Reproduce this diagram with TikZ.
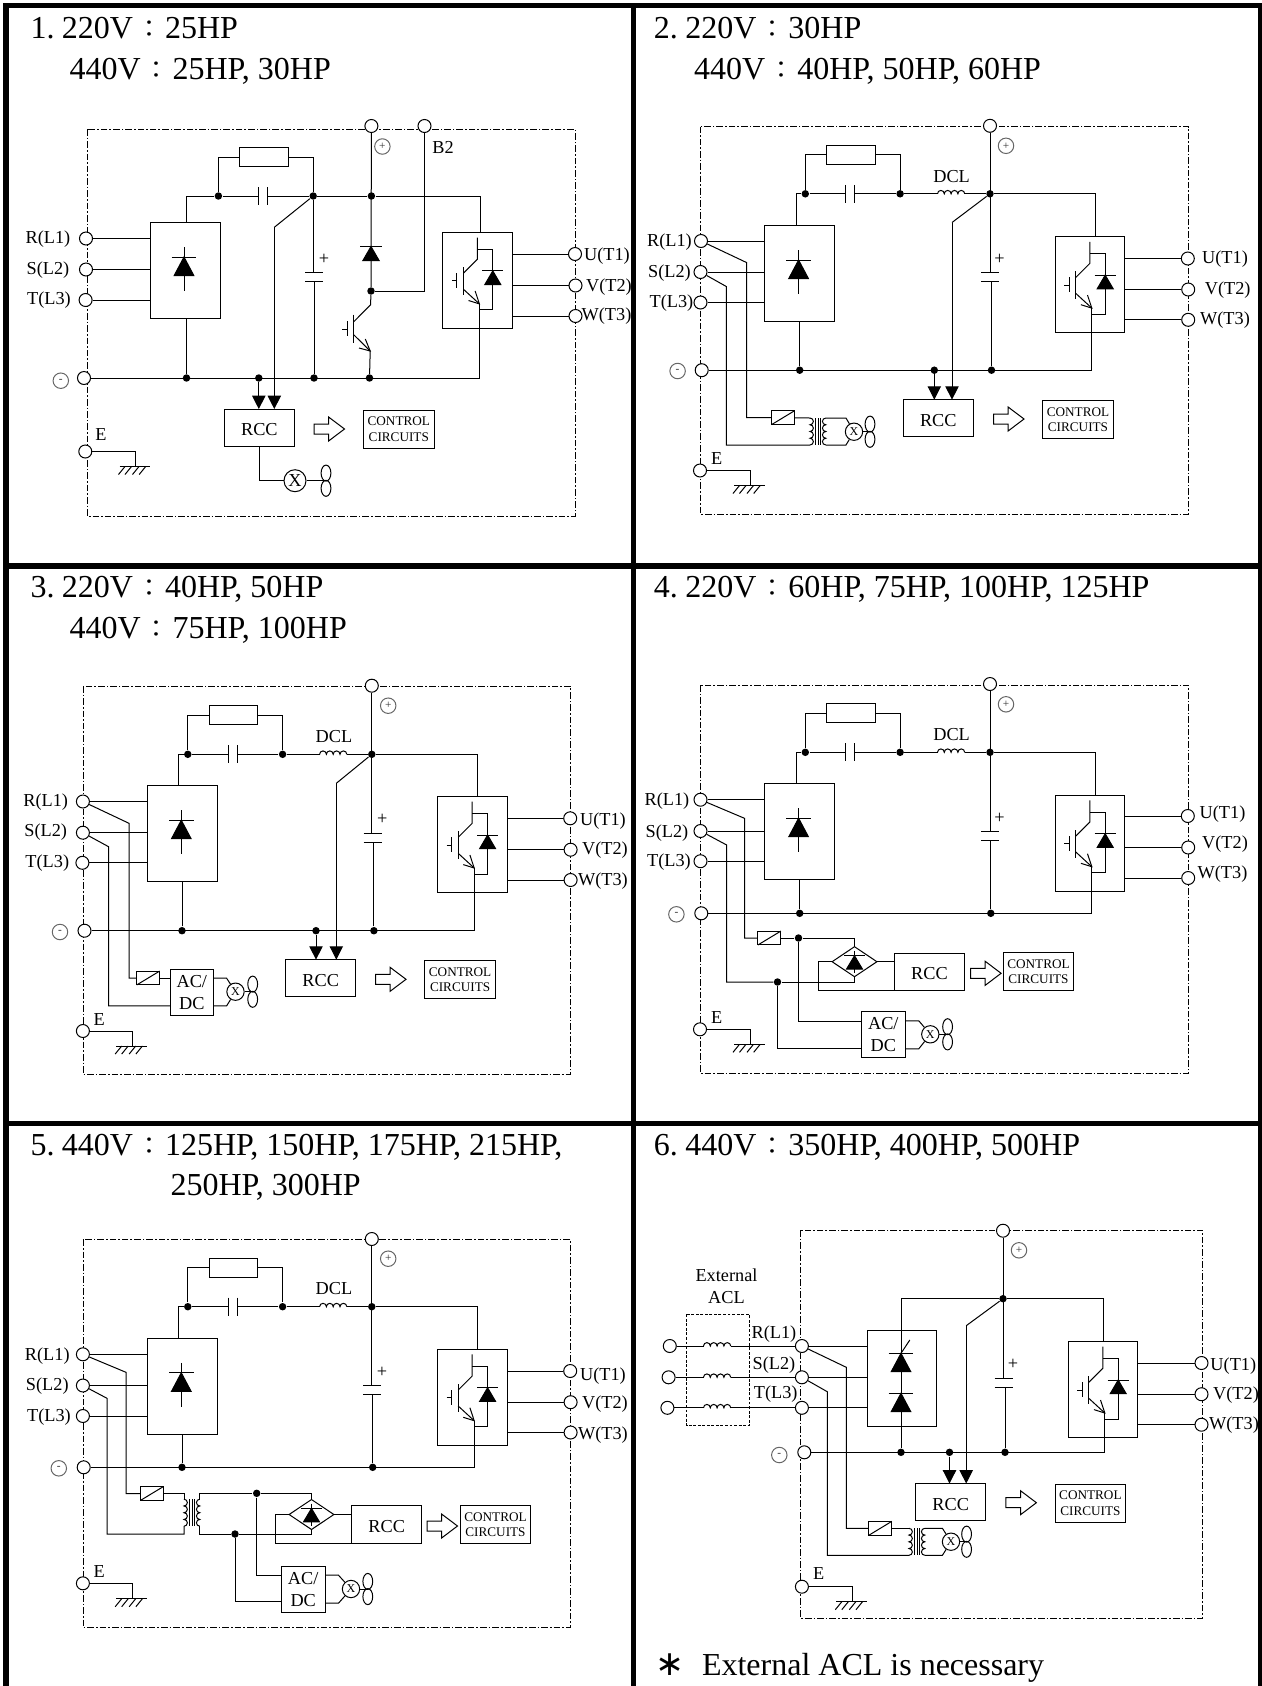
\documentclass[tikz,border=0pt]{standalone}
\usepackage{fontspec}
\setmainfont{Liberation Serif}
\newfontfamily\cjk{Noto Sans CJK TC}
\newfontfamily\symb{DejaVu Sans}
\usetikzlibrary{arrows.meta,calc,shapes.geometric}
\tikzset{
	term/.style={circle,draw,fill=white,inner sep=0,minimum size=9.75pt},
	dot/.style={circle,fill=black,inner sep=0,minimum size=5.6pt},
	sgn/.style={circle,draw=black!60,text=black!80,inner sep=0,minimum size=11.6pt,font=\fontsize{8.5}{9}\selectfont},
	lbl/.style={inner sep=0,yshift=-1pt,font=\fontsize{13.7}{16}\selectfont},
	rst/.style={lbl,yshift=-0.7pt},
	heading/.style={inner sep=0,anchor=base west,font=\fontsize{24}{28}\selectfont},
	blk/.style={draw,inner sep=0,outer sep=0,anchor=north west},
	rccbox/.style={draw,inner sep=0,outer sep=0,minimum width=52.5pt,minimum height=28pt,text height=12pt,font=\fontsize{13.7}{16}\selectfont},
	ctrlbox/.style={draw,inner sep=0,outer sep=0,minimum width=52.8pt,minimum height=28.5pt,align=center,font=\fontsize{9.9}{11.6}\selectfont},
	acbox/.style={draw,inner sep=0,outer sep=0,minimum width=32.7pt,minimum height=34.5pt,align=center,font=\fontsize{13.7}{16.5}\selectfont},
	resbox/.style={draw,inner sep=0,outer sep=0,minimum width=36.6pt,minimum height=14.3pt},
	relaybox/.style={draw,inner sep=0,outer sep=0,minimum width=17.2pt,minimum height=10.4pt},
	bridgebox/.style={diamond,draw,inner sep=0,outer sep=0,aspect=1.5,minimum width=33.6pt,minimum height=22.5pt},
	fanbig/.style={circle,draw,inner sep=0,minimum size=16.5pt,font=\fontsize{13.7}{16}\selectfont},
	fansmall/.style={circle,draw,inner sep=0,minimum size=13pt,font=\fontsize{9}{10}\selectfont},
	feed/.style={-{Triangle[length=10pt,width=10pt]}},
	dashbox/.style={line width=0.6pt,dash pattern=on 5pt off 1.5pt on 1.2pt off 1.5pt},
}
\def\cln{\makebox[1em]{\raisebox{0.5pt}{\fontsize{18}{18}\cjk ：}}}
\def\tight{\kern-.1em}
\def\diodeup(#1,#2)(#3:#4){
	\draw[fill=black] (#1,#2) -- (#1-#3,#2+#4) -- (#1+#3,#2+#4) -- cycle;
	\draw (#1-#3-2.5,#2) -- (#1+#3+2.5,#2);
}
\def\rectunit(#1,#2)#3{
	\begin{scope}[shift={(#1,#2)}]
		\node[blk,minimum width=52.5pt,minimum height=72pt] (#3) at (0,0) {};
		\draw (34,24.5) -- (34,68.5);
		\diodeup(34,34.5)(9.8:18.5)
	\end{scope}
}
\def\igbt(#1,#2)#3{
	\begin{scope}[shift={(#1,#2)}]
		\node[blk,minimum width=52.2pt,minimum height=72pt] (#3) at (0,0) {};
		\coordinate (#3e) at (36.6,71.7);
		\draw (34.6,5.4) -- (34.6,27) -- (20.6,41);
		\draw (20.6,35) -- (20.6,62.7);
		\draw (14,41) -- (14,56);
		\draw (9,48.7) -- (14,48.7);
		\draw (20.6,57) -- (36.6,71.7);
		\draw (32.3,58.7) -- (36.6,71.7) -- (25.7,68.3);
		\draw (34.6,17) -- (50,17) -- (50,77.7) -- (36.6,77.7);
		\diodeup(50,38.7)(8:13.7)
	\end{scope}
}
\def\snubber(#1,#2)#3{
	\begin{scope}[shift={(#1,#2)}]
		\node[dot] (#3a) at (0,0) {};
		\node[dot] (#3b) at (94.8,0) {};
		\node[resbox] (#3c) at (45.7,-39) {};
		\coordinate (#3d) at (40.4,0);
		\coordinate (#3e) at (49.3,0);
		\draw (#3a) |- (#3c);
		\draw (#3c) -| (#3b);
		\draw (#3a) -- (#3d);
		\draw (#3e) -- (#3b);
		\draw (40.4,-9) -- (40.4,9);
		\draw (49.3,-9) -- (49.3,9);
	\end{scope}
}
\def\choke(#1,#2)#3{
	\coordinate (#3l) at (#1,#2);
	\coordinate (#3r) at (#1+27.2,#2);
	\draw (#3l) arc (180:0:2.55pt) arc (180:0:2.55pt) arc (180:0:2.55pt) arc (180:0:2.55pt);
}
\def\buscap(#1,#2)#3{
	\coordinate (#3t) at (#1,#2);
	\coordinate (#3b) at (#1,#2+9);
	\draw (#1-9,#2) -- (#1+9,#2);
	\draw (#1-9,#2+9) -- (#1+9,#2+9);
	\node[lbl] (#3p) at (#1+9.6,#2-15) {+};
}
\def\ground(#1,#2)#3{
	\coordinate (#3) at (#1,#2);
	\begin{scope}[shift={(#1,#2)}]
		\draw (-16,0) -- (14.5,0);
		\draw (-10.5,0) -- ++(-6.5,8);
		\draw (-4,0) -- ++(-6.5,8);
		\draw (3.5,0) -- ++(-6.5,8);
		\draw (10.2,0) -- ++(-6.5,8);
	\end{scope}
}
\def\hollow(#1,#2){
	\begin{scope}[shift={(#1,#2)}]
		\draw (0,-5) -- (14.6,-5) -- (14.6,-12) -- (30.5,0) -- (14.6,12) -- (14.6,5) -- (0,5) -- cycle;
	\end{scope}
}
\def\fanunit[#1](#2,#3)(#4)#5{
	\node[#1] (#5) at (#2,#3) {X};
	\begin{scope}[shift={(#2,#3)}]
		\coordinate (#5s) at (#4,0);
		\draw (#5) -- (#5s);
		\draw (#4,-7.6) ellipse (4.9 and 8);
		\draw (#4,7.6) ellipse (4.9 and 8);
	\end{scope}
}
\def\relay(#1,#2)#3{
	\node[relaybox] (#3) at (#1,#2) {};
	\draw (#3.south west) -- (#3.north east);
}
\def\xfmr(#1,#2)#3{
	\begin{scope}[shift={(#1,#2)}]
		\coordinate (#3a) at (0,0);
		\coordinate (#3b) at (0,27);
		\coordinate (#3c) at (15.8,0);
		\coordinate (#3d) at (15.8,27);
		\draw (#3a) arc (90:-90:2.53pt) arc (90:-90:2.53pt) arc (90:-90:2.53pt) arc (90:-90:2.53pt);
		\draw (#3c) arc (90:270:2.53pt) arc (90:270:2.53pt) arc (90:270:2.53pt) arc (90:270:2.53pt);
		\draw (5.3,0) -- (5.3,27);
		\draw (8,0) -- (8,27);
		\draw (10.7,0) -- (10.7,27);
	\end{scope}
}
\def\bridge(#1,#2)#3{
	\node[bridgebox] (#3) at (#1,#2) {};
	\begin{scope}[shift={(#1,#2)}]
		\draw (0,-11) -- (0,11);
		\diodeup(0,-6)(8:13.4)
	\end{scope}
}
\def\phases#1{
	\draw (r#1) -- (r#1 -| rc#1.west);
	\draw (s#1) -- (s#1 -| rc#1.west);
	\draw (t#1) -- (t#1 -| rc#1.west);
	\draw (u#1) -- (u#1 -| ig#1.east);
	\draw (v#1) -- (v#1 -| ig#1.east);
	\draw (w#1) -- (w#1 -| ig#1.east);
}
\begin{document}
\begin{tikzpicture}[x=0.75pt,y=-0.75pt,line width=0.75pt]
	\useasboundingbox (0,0) rectangle (1262,1686);
	%%%%% FRAME %%%%%
	\fill (3,3) rectangle (9,1686);
	\fill (631,3) rectangle (636,1686);
	\fill (1257.5,3) rectangle (1262,1686);
	\fill (3,3) rectangle (1262,8);
	\fill (3,562.5) rectangle (1262,568.5);
	\fill (3,1121) rectangle (1262,1125.7);

	%%%%% PANEL 1 %%%%%
	\node[heading] (head1a) at (30,38) {1.\tight{} 220V\cln 25HP};
	\node[heading] (head1b) at (69,79) {440V\cln 25HP, 30HP};
	\draw[dashbox] (87,129) rectangle (575,516);
	\node[term] (pos1) at (371.4,126) {};
	\node[term] (b21) at (424.5,126) {};
	\node[sgn] (psign1) at (382.4,146.5) {+};
	\node[lbl] (b2lbl1) at (443,145.7) {B2};
	\node[term] (r1) at (86,238.5) {};
	\node[term] (s1) at (86,269.5) {};
	\node[term] (t1) at (85.6,300) {};
	\node[rst] (rlbl1) at (48,237) {R(L1)};
	\node[rst] (slbl1) at (48,268) {S(L2)};
	\node[rst] (tlbl1) at (49,298) {T(L3)};
	\node[term] (u1) at (575,254) {};
	\node[term] (v1) at (575.5,285.5) {};
	\node[term] (w1) at (575.5,316) {};
	\node[lbl] (ulbl1) at (607,255) {U(T1)};
	\node[lbl] (vlbl1) at (609,285.5) {V(T2)};
	\node[lbl] (wlbl1) at (606.5,315) {W(T3)};
	\rectunit(150,222.5){rc1}
	\igbt(442.8,232.2){ig1}
	\phases{1}
	\snubber(218.4,196){sn1}
	\coordinate (rt1) at (186.5,222.5);
	\coordinate (it1) at (480.4,232.2);
	\draw (rt1) |- (sn1a);
	\node[dot] (p1) at (371.4,196) {};
	\node[dot] (j1) at (371,291) {};
	\draw (sn1b) -- (p1) -| (it1);
	\draw (pos1) -- (j1);
	\diodeup(371,246.5)(8.2:14.2)
	\draw (b21) |- (j1);
	\node[term] (neg1) at (84,378) {};
	\node[sgn] (nsign1) at (60.8,380.7) {-};
	\node[dot] (ba1) at (186.5,378) {};
	\node[dot] (bb1) at (258.8,378) {};
	\node[dot] (bc1) at (314,378) {};
	\node[dot] (bd1) at (369.5,378) {};
	\draw (neg1) -- (ig1e |- neg1) -- (ig1e);
	\draw (ba1) -- (ba1 |- rc1.south);
	\buscap(314.3,272.7){cp1}
	\draw (sn1b) -- (sn1b |- cp1t);
	\draw (bc1) -- (bc1 |- cp1b);
	\coordinate (tc1) at (370.6,304.7);
	\coordinate (te1) at (370.2,351);
	\draw (j1) -- (tc1) -- (353.5,322);
	\draw (353.5,314.5) -- (353.5,343);
	\draw (347.8,321) -- (347.8,335.6);
	\draw (342,329) -- (347.8,329);
	\draw (353.5,334.5) -- (te1) -- (bd1);
	\draw (365.3,339) -- (te1) -- (359,348);
	\node[rccbox] (rcc1) at (259.4,427.7) {RCC};
	\node[ctrlbox] (ctrl1) at (398.8,429) {CONTROL\\CIRCUITS};
	\coordinate (k1) at (274.3,227.3);
	\draw (sn1b) -- (k1);
	\draw[feed] (k1) -- (k1 |- rcc1.north);
	\draw[feed] (bb1) -- (bb1 |- rcc1.north);
	\hollow(314,429)
	\node[term] (e1) at (85.3,451.5) {};
	\node[lbl] (elbl1) at (101,432.7) {E};
	\ground(135.5,466.5){gnd1}
	\draw (e1) -| (gnd1);
	\fanunit[fanbig](295,480.7)(31){fan1}
	\draw (rcc1) |- (fan1);

	%%%%% PANEL 2 %%%%%
	\node[heading] (head2a) at (653.4,38) {2.\tight{} 220V\cln 30HP};
	\node[heading] (head2b) at (693.7,79) {440V\cln 40HP, 50HP, 60HP};
	\draw[dashbox] (700.5,126.5) rectangle (1188.6,514.5);
	\node[term] (pos2) at (990,125.8) {};
	\node[sgn] (psign2) at (1006,145.8) {+};
	\node[term] (r2) at (701,241) {};
	\node[term] (s2) at (700.5,272) {};
	\node[term] (t2) at (700.5,302.5) {};
	\node[rst] (rlbl2) at (669.5,240) {R(L1)};
	\node[rst] (slbl2) at (669.5,271) {S(L2)};
	\node[rst] (tlbl2) at (671.5,301) {T(L3)};
	\node[term] (u2) at (1187.8,258.5) {};
	\node[term] (v2) at (1188.2,289.5) {};
	\node[term] (w2) at (1188.2,319.8) {};
	\node[lbl] (ulbl2) at (1225,257.5) {U(T1)};
	\node[lbl] (vlbl2) at (1227.7,288.4) {V(T2)};
	\node[lbl] (wlbl2) at (1225,318.5) {W(T3)};
	\rectunit(764.6,225.5){rc2}
	\igbt(1055.2,236.4){ig2}
	\phases{2}
	\snubber(805.3,193.8){sn2}
	\choke(937.5,193.8){dl2}
	\node[lbl] (dlbl2) at (951.6,175) {DCL};
	\coordinate (rt2) at (796.5,225.5);
	\coordinate (it2) at (1095.5,236.4);
	\node[dot] (p2) at (990,193.8) {};
	\draw (rt2) |- (sn2a);
	\draw (sn2b) -- (dl2l);
	\draw (dl2r) -- (p2) -| (it2);
	\node[term] (neg2) at (701.7,370.2) {};
	\node[sgn] (nsign2) at (677.6,371) {-};
	\node[dot] (ba2) at (799.7,370.2) {};
	\node[dot] (bb2) at (934.3,370.2) {};
	\node[dot] (bc2) at (991.5,370.2) {};
	\draw (neg2) -- (ig2e |- neg2) -- (ig2e);
	\draw (ba2) -- (ba2 |- rc2.south);
	\buscap(990,272.7){cp2}
	\draw (pos2) -- (pos2 |- cp2t);
	\draw (bc2) -- (bc2 |- cp2b);
	\node[rccbox] (rcc2) at (938.3,418.3) {RCC};
	\node[ctrlbox] (ctrl2) at (1078,419.7) {CONTROL\\CIRCUITS};
	\coordinate (k2) at (952,222.5);
	\draw (p2) -- (k2);
	\draw[feed] (k2) -- (k2 |- rcc2.north);
	\draw[feed] (bb2) -- (bb2 |- rcc2.north);
	\hollow(993.5,419)
	\relay(783,417.7){ry2}
	\xfmr(810,418){tf2}
	\coordinate (rk2) at (746.5,262.5);
	\coordinate (sk2) at (726.3,286.5);
	\draw (r2) -- (rk2) |- (ry2);
	\draw (ry2) -- (tf2a);
	\draw (s2) -- (sk2) |- (tf2b);
	\fanunit[fansmall](854,431.7)(16){fan2}
	\draw (tf2c) -- ++(20.2,0) -- (fan2);
	\draw (tf2d) -- ++(20.2,0) -- (fan2);
	\node[term] (e2) at (700,470.5) {};
	\node[lbl] (elbl2) at (716.7,457.5) {E};
	\ground(750,485.5){gnd2}
	\draw (e2) -| (gnd2);

	%%%%% PANEL 3 %%%%%
	\node[heading] (head3a) at (30,597) {3.\tight{} 220V\cln 40HP, 50HP};
	\node[heading] (head3b) at (69,638) {440V\cln 75HP, 100HP};
	\draw[dashbox] (82.9,686) rectangle (570.2,1074.3);
	\node[term] (pos3) at (371.8,685.7) {};
	\node[sgn] (psign3) at (388.2,705.7) {+};
	\node[term] (r3) at (82.9,801.5) {};
	\node[term] (s3) at (82.9,832.7) {};
	\node[term] (t3) at (82.4,862.8) {};
	\node[rst] (rlbl3) at (45.7,800) {R(L1)};
	\node[rst] (slbl3) at (45.7,830) {S(L2)};
	\node[rst] (tlbl3) at (47.3,861.3) {T(L3)};
	\node[term] (u3) at (570.2,818.3) {};
	\node[term] (v3) at (570.6,849.7) {};
	\node[term] (w3) at (570.6,880) {};
	\node[lbl] (ulbl3) at (602.9,819.3) {U(T1)};
	\node[lbl] (vlbl3) at (605,849) {V(T2)};
	\node[lbl] (wlbl3) at (602.9,879.3) {W(T3)};
	\rectunit(147.3,785.7){rc3}
	\igbt(437.6,796.3){ig3}
	\phases{3}
	\snubber(187.8,754.3){sn3}
	\choke(319.6,754.3){dl3}
	\node[lbl] (dlbl3) at (333.9,734.8) {DCL};
	\coordinate (rt3) at (178.8,785.7);
	\coordinate (it3) at (477.6,796.3);
	\node[dot] (p3) at (371.8,754.3) {};
	\draw (rt3) |- (sn3a);
	\draw (sn3b) -- (dl3l);
	\draw (dl3r) -- (p3) -| (it3);
	\node[term] (neg3) at (84.5,930.7) {};
	\node[sgn] (nsign3) at (60,932) {-};
	\node[dot] (ba3) at (182,930.7) {};
	\node[dot] (bb3) at (316,930.7) {};
	\node[dot] (bc3) at (373.9,930.7) {};
	\draw (neg3) -- (ig3e |- neg3) -- (ig3e);
	\draw (ba3) -- (ba3 |- rc3.south);
	\buscap(372.6,833.3){cp3}
	\draw (pos3) -- (pos3 |- cp3t);
	\draw (bc3) -- (bc3 |- cp3b);
	\node[rccbox] (rcc3) at (320.7,978.3) {RCC};
	\node[ctrlbox] (ctrl3) at (460.1,979.5) {CONTROL\\CIRCUITS};
	\coordinate (k3) at (336.3,783.3);
	\draw (p3) -- (k3);
	\draw[feed] (k3) -- (k3 |- rcc3.north);
	\draw[feed] (bb3) -- (bb3 |- rcc3.north);
	\hollow(375.5,979.3)
	\relay(148.2,978){ry3}
	\node[acbox] (ac3) at (191.8,992.2) {AC/\\DC};
	\coordinate (rk3) at (129,823.3);
	\coordinate (sk3) at (108.6,846.7);
	\draw (r3) -- (rk3) |- (ry3);
	\draw (ry3) -- (ry3 -| ac3.west);
	\draw (s3) -- (sk3) |- ($(ac3.south west)+(0,-9.3)$);
	\fanunit[fansmall](235.5,991.7)(17.2){fan3}
	\draw ($(ac3.north east)+(0,9)$) -- ++(13,0) -- (fan3);
	\draw ($(ac3.south east)+(0,-9.3)$) -- ++(13,0) -- (fan3);
	\node[term] (e3) at (82.9,1031) {};
	\node[lbl] (elbl3) at (99.2,1017.7) {E};
	\ground(132.2,1046){gnd3}
	\draw (e3) -| (gnd3);

	%%%%% PANEL 4 %%%%%
	\node[heading] (head4a) at (653.4,597) {4.\tight{} 220V\cln 60HP, 75HP, 100HP, 125HP};
	\draw[dashbox] (700.5,685) rectangle (1188.6,1073.3);
	\node[term] (pos4) at (990,684) {};
	\node[sgn] (psign4) at (1006,704.3) {+};
	\node[term] (r4) at (700.5,799.7) {};
	\node[term] (s4) at (700.5,831) {};
	\node[term] (t4) at (700.5,861.2) {};
	\node[rst] (rlbl4) at (667,799) {R(L1)};
	\node[rst] (slbl4) at (667,830.7) {S(L2)};
	\node[rst] (tlbl4) at (669,860) {T(L3)};
	\node[term] (u4) at (1187.8,816) {};
	\node[term] (v4) at (1188.2,847.5) {};
	\node[term] (w4) at (1188.2,878) {};
	\node[lbl] (ulbl4) at (1222.5,812.7) {U(T1)};
	\node[lbl] (vlbl4) at (1225,842.7) {V(T2)};
	\node[lbl] (wlbl4) at (1222.5,872.3) {W(T3)};
	\rectunit(764.6,783.7){rc4}
	\igbt(1055.2,795){ig4}
	\phases{4}
	\snubber(805.3,752.3){sn4}
	\choke(937.5,752.3){dl4}
	\node[lbl] (dlbl4) at (951.6,733.5) {DCL};
	\coordinate (rt4) at (796.5,783.7);
	\coordinate (it4) at (1095.5,795);
	\node[dot] (p4) at (990,752.3) {};
	\draw (rt4) |- (sn4a);
	\draw (sn4b) -- (dl4l);
	\draw (dl4r) -- (p4) -| (it4);
	\node[term] (neg4) at (701.3,913.3) {};
	\node[sgn] (nsign4) at (676.4,914.3) {-};
	\node[dot] (ba4) at (799.7,913.3) {};
	\node[dot] (bc4) at (990.8,913.3) {};
	\draw (neg4) -- (ig4e |- neg4) -- (ig4e);
	\draw (ba4) -- (ba4 |- rc4.south);
	\buscap(990,831.7){cp4}
	\draw (pos4) -- (pos4 |- cp4t);
	\draw (bc4) -- (bc4 |- cp4b);
	\relay(769.4,938){ry4}
	\node[dot] (a4) at (798.5,938) {};
	\node[dot] (b4) at (777.5,982) {};
	\bridge(854.5,961.7){br4}
	\node[rccbox] (rcc4) at (929.4,971.7) {RCC};
	\node[ctrlbox] (ctrl4) at (1038.5,971.7) {CONTROL\\CIRCUITS};
	\hollow(970.6,973.3)
	\coordinate (rk4) at (744.5,818.3);
	\coordinate (sk4) at (726.7,845);
	\draw (r4) -- (rk4) |- (ry4);
	\draw (ry4) -- (a4) -| (br4.north);
	\draw (s4) -- (sk4) |- (b4);
	\draw (b4) -| (br4.south);
	\draw (br4.west) -- ++(-13.7,0) |- (rcc4.south west);
	\draw (br4.east) -- (br4.east -| rcc4.west);
	\node[acbox] (ac4) at (883.3,1034.8) {AC/\\DC};
	\draw (a4) |- ($(ac4.north west)+(0,9.3)$);
	\draw (b4) |- ($(ac4.south west)+(0,-9.3)$);
	\fanunit[fansmall](930.3,1034.3)(17.3){fan4}
	\draw ($(ac4.north east)+(0,9)$) -- ++(13.7,0) -- (fan4);
	\draw ($(ac4.south east)+(0,-9)$) -- ++(13.7,0) -- (fan4);
	\node[term] (e4) at (700,1029.3) {};
	\node[lbl] (elbl4) at (716.7,1015.7) {E};
	\ground(750,1044.3){gnd4}
	\draw (e4) -| (gnd4);

	%%%%% PANEL 5 %%%%%
	\node[heading] (head5a) at (30,1155) {5.\tight{} 440V\cln 125HP, 150HP, 175HP, 215HP,};
	\node[heading] (head5b) at (170,1195.6) {250HP, 300HP};
	\draw[dashbox] (82.9,1239.3) rectangle (570.2,1627.3);
	\node[term] (pos5) at (371.8,1239) {};
	\node[sgn] (psign5) at (388.2,1258.7) {+};
	\node[term] (r5) at (82.9,1354.3) {};
	\node[term] (s5) at (82.9,1385.5) {};
	\node[term] (t5) at (82.9,1416) {};
	\node[rst] (rlbl5) at (47.3,1354) {R(L1)};
	\node[rst] (slbl5) at (47.3,1384) {S(L2)};
	\node[rst] (tlbl5) at (49,1415) {T(L3)};
	\node[term] (u5) at (570.2,1371) {};
	\node[term] (v5) at (570.6,1402.2) {};
	\node[term] (w5) at (570.6,1432.5) {};
	\node[lbl] (ulbl5) at (602.9,1374.3) {U(T1)};
	\node[lbl] (vlbl5) at (605,1402.7) {V(T2)};
	\node[lbl] (wlbl5) at (602.9,1433.3) {W(T3)};
	\rectunit(147.3,1338.3){rc5}
	\igbt(437.6,1349){ig5}
	\phases{5}
	\snubber(187.8,1306.7){sn5}
	\choke(319.6,1306.7){dl5}
	\node[lbl] (dlbl5) at (333.9,1287.5) {DCL};
	\coordinate (rt5) at (178.8,1338.3);
	\coordinate (it5) at (477.6,1349);
	\node[dot] (p5) at (371.8,1306.7) {};
	\draw (rt5) |- (sn5a);
	\draw (sn5b) -- (dl5l);
	\draw (dl5r) -- (p5) -| (it5);
	\node[term] (neg5) at (83.7,1467.3) {};
	\node[sgn] (nsign5) at (58.8,1468.3) {-};
	\node[dot] (ba5) at (182,1467.3) {};
	\node[dot] (bc5) at (372.7,1467.3) {};
	\draw (neg5) -- (ig5e |- neg5) -- (ig5e);
	\draw (ba5) -- (ba5 |- rc5.south);
	\buscap(372.3,1385.7){cp5}
	\draw (pos5) -- (pos5 |- cp5t);
	\draw (bc5) -- (bc5 |- cp5b);
	\relay(151.9,1493.5){ry5}
	\xfmr(184,1499.2){tf5}
	\node[dot] (a5) at (256.7,1493.3) {};
	\node[dot] (b5) at (235,1534) {};
	\bridge(311.5,1514.5){br5}
	\node[rccbox] (rcc5) at (386.7,1524.5) {RCC};
	\node[ctrlbox] (ctrl5) at (495.5,1524.5) {CONTROL\\CIRCUITS};
	\hollow(427,1526)
	\coordinate (rk5) at (126,1372.3);
	\coordinate (sk5) at (107,1398.3);
	\draw (r5) -- (rk5) |- (ry5);
	\draw (ry5) -| (tf5a);
	\draw (s5) -- (sk5) |- (tf5b |- b5) -- (tf5b);
	\draw (tf5c) |- (a5) -| (br5.north);
	\draw (tf5d) |- (b5) -| (br5.south);
	\draw (br5.west) -- ++(-13.7,0) |- (rcc5.south west);
	\draw (br5.east) -- (br5.east -| rcc5.west);
	\node[acbox] (ac5) at (303.2,1589.2) {AC/\\DC};
	\draw (a5) |- ($(ac5.north west)+(0,9)$);
	\draw (b5) |- ($(ac5.south west)+(0,-10.5)$);
	\fanunit[fansmall](351,1589)(16.8){fan5}
	\draw ($(ac5.north east)+(0,9)$) -- ++(13.5,0) -- (fan5);
	\draw ($(ac5.south east)+(0,-9)$) -- ++(13.5,0) -- (fan5);
	\node[term] (e5) at (82.9,1583.3) {};
	\node[lbl] (elbl5) at (99.2,1570) {E};
	\ground(132.2,1598.7){gnd5}
	\draw (e5) -| (gnd5);

	%%%%% PANEL 6 %%%%%
	\node[heading] (head6a) at (653.4,1155) {6.\tight{} 440V\cln 350HP, 400HP, 500HP};
	\draw[dashbox] (800.7,1230) rectangle (1202.7,1618.3);
	\node[term] (pos6) at (1003,1230.7) {};
	\node[sgn] (psign6) at (1019,1250.3) {+};
	\node[term] (r6) at (801.9,1346) {};
	\node[term] (s6) at (801.9,1377.3) {};
	\node[term] (t6) at (801.9,1407.8) {};
	\node[rst] (rlbl6) at (774,1331.7) {R(L1)};
	\node[rst] (slbl6) at (774,1362.7) {S(L2)};
	\node[rst] (tlbl6) at (775.7,1392.3) {T(L3)};
	\node[term] (u6) at (1201.5,1363) {};
	\node[term] (v6) at (1201.5,1394.2) {};
	\node[term] (w6) at (1201.5,1424.7) {};
	\node[lbl] (ulbl6) at (1233.3,1364.3) {U(T1)};
	\node[lbl] (vlbl6) at (1236,1393.3) {V(T2)};
	\node[lbl] (wlbl6) at (1234,1424) {W(T3)};
	\node[blk,minimum width=52.1pt,minimum height=72.3pt] (rc6) at (867,1330.3) {};
	\igbt(1068.2,1341.3){ig6}
	\phases{6}
	\node[term] (ex1) at (669.8,1346) {};
	\node[term] (ex2) at (668.6,1377.3) {};
	\node[term] (ex3) at (667.4,1407.8) {};
	\choke(703.5,1346){la6}
	\choke(703.5,1377.3){lb6}
	\choke(703.5,1407.8){lc6}
	\draw (ex1) -- (la6l);
	\draw (la6r) -- (r6);
	\draw (ex2) -- (lb6l);
	\draw (lb6r) -- (s6);
	\draw (ex3) -- (lc6l);
	\draw (lc6r) -- (t6);
	\draw[line width=0.6pt,dash pattern=on 2.2pt off 1.2pt] (686.8,1314.3) rectangle (749.1,1425.7);
	\node[lbl,align=center,font=\fontsize{13.7}{16.9}\selectfont] (acl6) at (726.5,1285) {External\\ACL};
	\node[dot] (p6) at (1003,1298.7) {};
	\node[dot] (ba6) at (901,1452.3) {};
	\node[dot] (bb6) at (949.5,1452.3) {};
	\node[dot] (bc6) at (1005,1452.3) {};
	\coordinate (rt6) at (901,1298.7);
	\coordinate (it6) at (1103,1341.3);
	\draw (p6) -- (rt6) -- (ba6);
	\draw (p6) -| (it6);
	\diodeup(901,1353.3)(9.8:18.4)
	\draw (901,1353.3) -- (909.8,1340);
	\diodeup(901,1393.3)(9.8:18.4)
	\node[term] (neg6) at (804.3,1452.3) {};
	\node[sgn] (nsign6) at (779.3,1455) {-};
	\draw (neg6) -- (ig6e |- neg6) -- (ig6e);
	\buscap(1003.5,1378.3){cp6}
	\draw (pos6) -- (pos6 |- cp6t);
	\draw (bc6) -- (bc6 |- cp6b);
	\node[rccbox] (rcc6) at (950.7,1502.2) {RCC};
	\node[ctrlbox] (ctrl6) at (1090.4,1503.2) {CONTROL\\CIRCUITS};
	\coordinate (k6) at (966.2,1325.7);
	\draw (p6) -- (k6);
	\draw[feed] (k6) -- (k6 |- rcc6.north);
	\draw[feed] (bb6) -- (bb6 |- rcc6.north);
	\hollow(1005.9,1502.7)
	\relay(880.3,1528.3){ry6}
	\xfmr(909,1528.3){tf6}
	\coordinate (rk6) at (846.3,1367.3);
	\coordinate (sk6) at (827.3,1391.7);
	\draw (r6) -- (rk6) |- (ry6);
	\draw (ry6) -- (tf6a);
	\draw (s6) -- (sk6) |- (tf6b);
	\fanunit[fansmall](951,1541.7)(15.6){fan6}
	\draw (tf6c) -- ++(17.6,0) -- (fan6);
	\draw (tf6d) -- ++(17.6,0) -- (fan6);
	\node[term] (e6) at (801.9,1586.7) {};
	\node[lbl] (elbl6) at (818.6,1572.3) {E};
	\ground(852.3,1601.7){gnd6}
	\draw (e6) -| (gnd6);
	\node[inner sep=0,font=\symb\fontsize{26}{26}\selectfont] (star6) at (669.8,1665) {∗};
	\node[heading] (note6) at (701.5,1675) {External ACL is necessary};
\end{tikzpicture}
\end{document}
